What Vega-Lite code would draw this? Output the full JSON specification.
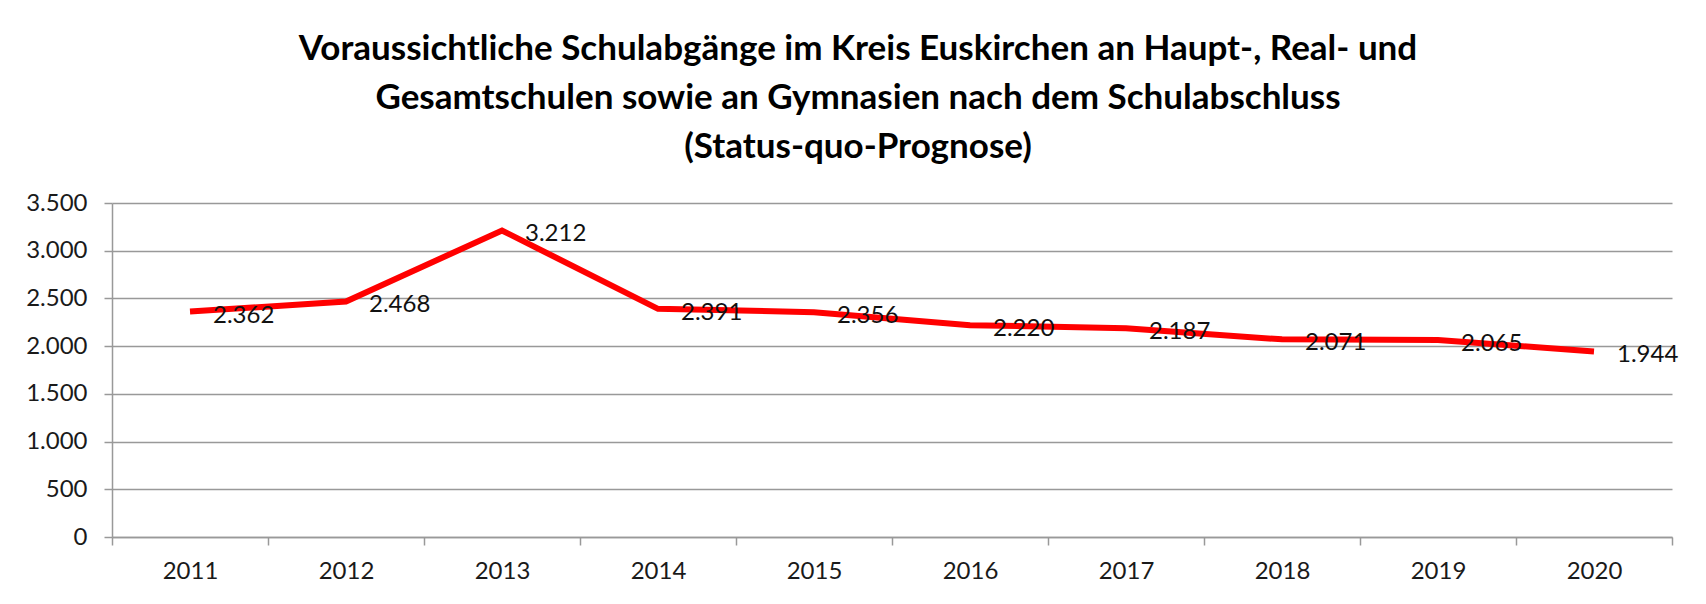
{
  "$schema": "https://vega.github.io/schema/vega-lite/v6.json",
  "width": 1560,
  "height": 334,
  "autosize": {"type": "none"},
  "padding": {"left": 112, "top": 203, "right": 34, "bottom": 67},
  "background": "white",
  "config": {
    "locale": {"number": {"decimal": ",", "thousands": ".", "grouping": [3], "currency": ["", " €"]}},
    "view": {"stroke": null},
    "font": "Lato"
  },
  "title": {
    "text": ["Voraussichtliche Schulabgänge im Kreis Euskirchen an Haupt-, Real- und", "Gesamtschulen sowie an Gymnasien nach dem Schulabschluss", "(Status-quo-Prognose)"],
    "fontSize": 35,
    "font": "Lato",
    "fontWeight": "bold",
    "lineHeight": 49,
    "anchor": "middle",
    "dx": -34,
    "offset": 26,
    "color": "#000000"
  },
  "data": {
    "values": [
      {"Jahr": "2011", "Anzahl": 2362},
      {"Jahr": "2012", "Anzahl": 2468},
      {"Jahr": "2013", "Anzahl": 3212},
      {"Jahr": "2014", "Anzahl": 2391},
      {"Jahr": "2015", "Anzahl": 2356},
      {"Jahr": "2016", "Anzahl": 2220},
      {"Jahr": "2017", "Anzahl": 2187},
      {"Jahr": "2018", "Anzahl": 2071},
      {"Jahr": "2019", "Anzahl": 2065},
      {"Jahr": "2020", "Anzahl": 1944}
    ]
  },
  "encoding": {
    "x": {
      "field": "Jahr",
      "type": "ordinal",
      "scale": {"type": "band", "paddingInner": 0, "paddingOuter": 0},
      "axis": {
        "title": null,
        "labelAngle": 0,
        "tickBand": "extent",
        "ticks": true,
        "tickSize": 8,
        "tickColor": "#999999",
        "tickWidth": 1.5,
        "domainColor": "#999999",
        "domainWidth": 1.5,
        "grid": false,
        "labelFontSize": 24,
        "labelColor": "#1a1a1a",
        "labelPadding": 14
      }
    },
    "y": {
      "field": "Anzahl",
      "type": "quantitative",
      "scale": {"domain": [0, 3500], "nice": false},
      "axis": {
        "title": null,
        "values": [0, 500, 1000, 1500, 2000, 2500, 3000, 3500],
        "format": ",d",
        "grid": true,
        "gridColor": "#999999",
        "gridWidth": 1.5,
        "tickSize": 8,
        "tickColor": "#999999",
        "tickWidth": 1.5,
        "domainColor": "#999999",
        "domainWidth": 1.5,
        "labelFontSize": 24,
        "labelColor": "#1a1a1a",
        "labelPadding": 17
      }
    }
  },
  "layer": [
    {"mark": {"type": "line", "color": "#ff0000", "strokeWidth": 6}},
    {
      "mark": {"type": "text", "align": "left", "baseline": "middle", "dx": 23, "dy": 4, "fontSize": 24, "color": "#111111"},
      "encoding": {"text": {"field": "Anzahl", "type": "quantitative", "format": ",d"}}
    }
  ]
}
